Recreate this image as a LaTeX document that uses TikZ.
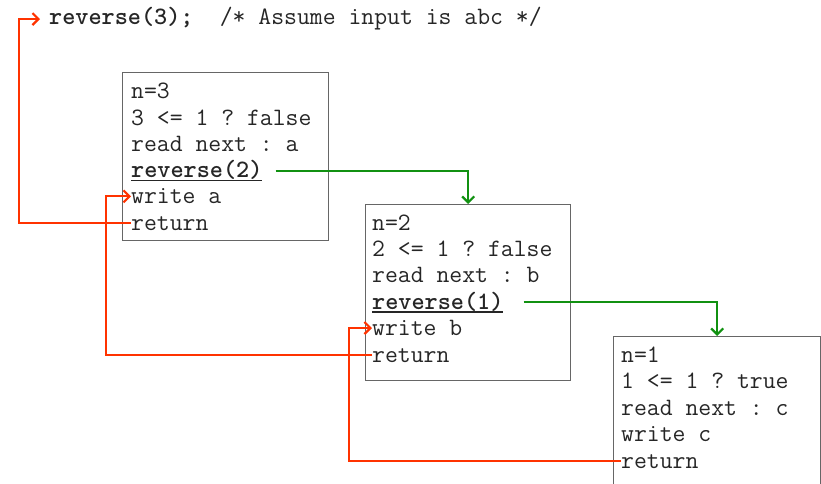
\documentclass[tikz,border=0pt]{standalone}
\usepackage{fontspec}
\usetikzlibrary{positioning,arrows.meta}

\definecolor{retred}{RGB}{255,51,0}
\definecolor{callgreen}{RGB}{17,145,17}
% bold call with a thick underline
\newcommand\callref[1]{\setbox0\hbox{\textbf{#1}}\rlap{\rule[-3.6pt]{\wd0}{1.7pt}}\box0}

\begin{document}
\begin{tikzpicture}[x=1pt,y=-1pt,
  font=\ttfamily\fontsize{25}{26.3}\selectfont\frenchspacing,
  frame/.style={draw=black!60,line width=1.4pt,anchor=north west,inner sep=0pt},
  codeline/.style={anchor=base west,inner sep=0pt,text=black!85},
  back/.style={draw=retred,line width=2.2pt,-{Straight Barb[length=6pt,width=12pt]}},
  recur/.style={draw=callgreen,line width=2.2pt,-{Straight Barb[length=6pt,width=12pt]}}]
\useasboundingbox (0,0) rectangle (821,484);
% top call
\node[codeline] (call) at (49,25) {\textbf{reverse(3);}\hspace{1.05em}/* Assume input is abc */};
% activation frames
\node[frame,minimum width=206pt,minimum height=168pt] (f1) at (122,72) {};
\node[frame,minimum width=205pt,minimum height=176pt] (f2) at (365,204) {};
\node[frame,minimum width=207pt,minimum height=170pt] (f3) at (613,336) {};
\foreach \txt [count=\i] in {n=3, 3 <= 1 ? false, read next : a, \callref{reverse(2)}, write a, return}
  \node[codeline] (b1-\i) at (131,{99+26.2*(\i-1)}) {\txt};
\foreach \txt [count=\i] in {n=2, 2 <= 1 ? false, read next : b, \callref{reverse(1)}, write b, return}
  \node[codeline] (b2-\i) at (372,{230+26.4*(\i-1)}) {\txt};
\foreach \txt [count=\i] in {n=1, 1 <= 1 ? true, read next : c, write c, return}
  \node[codeline] (b3-\i) at (621,{362+26.5*(\i-1)}) {\txt};
% recursive calls
\draw[recur] ([xshift=13pt]b1-4.east) -| (f2.north);
\draw[recur] ([xshift=20pt]b2-4.east) -| (f3.north);
% returns
\draw[back] (b1-6.west) -- ++(-112,0) |- ([xshift=-9pt]call.west);
\draw[back] (b2-6.west) -- ++(-266,0) |- (b1-5.west);
\draw[back] (b3-5.west) -- ++(-272,0) |- (b2-5.west);
\end{tikzpicture}
\end{document}
